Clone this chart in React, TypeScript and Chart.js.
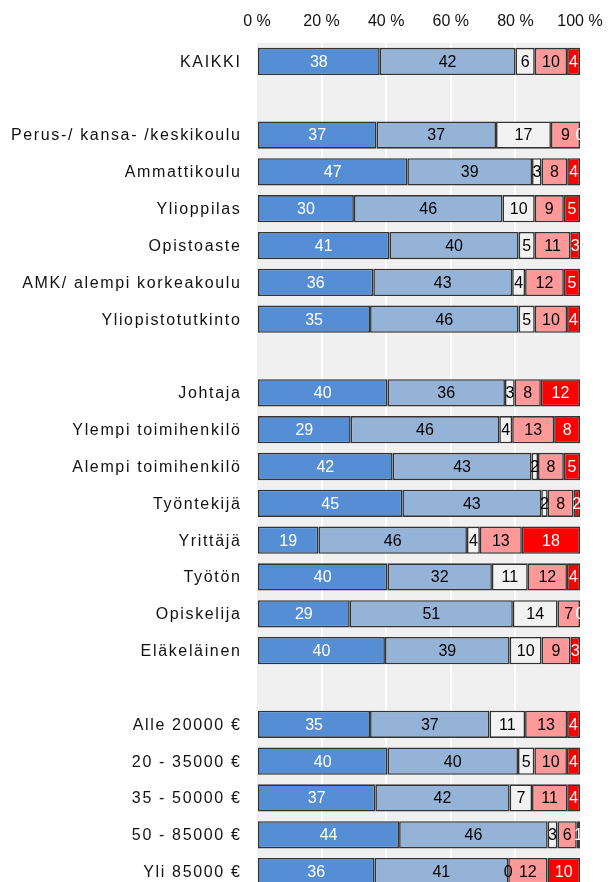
import React, { useEffect, useRef } from 'react';
import { Chart, registerables } from 'chart.js';

Chart.register(...registerables);

const categories = [
  'KAIKKI', '',
  'Perus-/ kansa- /keskikoulu', 'Ammattikoulu', 'Ylioppilas', 'Opistoaste', 'AMK/ alempi korkeakoulu', 'Yliopistotutkinto', '',
  'Johtaja', 'Ylempi toimihenkilö', 'Alempi toimihenkilö', 'Työntekijä', 'Yrittäjä', 'Työtön', 'Opiskelija', 'Eläkeläinen', '',
  'Alle 20000 €', '20 - 35000 €', '35 - 50000 €', '50 - 85000 €', 'Yli 85000 €',
];

const series1 = [38, null, 37, 47, 30, 41, 36, 35, null, 40, 29, 42, 45, 19, 40, 29, 40, null, 35, 40, 37, 44, 36];
const series2 = [42, null, 37, 39, 46, 40, 43, 46, null, 36, 46, 43, 43, 46, 32, 51, 39, null, 37, 40, 42, 46, 41];
const series3 = [6, null, 17, 3, 10, 5, 4, 5, null, 3, 4, 2, 2, 4, 11, 14, 10, null, 11, 5, 7, 3, 0];
const series4 = [10, null, 9, 8, 9, 11, 12, 10, null, 8, 13, 8, 8, 13, 12, 7, 9, null, 13, 10, 11, 6, 12];
const series5 = [4, null, 0, 4, 5, 3, 5, 4, null, 12, 8, 5, 2, 18, 4, 0, 3, null, 4, 4, 4, 1, 10];

const seriesNames = ['1', '2', '3', '4', '5'];
const seriesColors = ['#558ed5', '#95b3d7', '#f2f2f2', '#ff9999', '#ff0000'];
const labelColors = ['#ffffff', '#000000', '#000000', '#000000', '#ffffff'];
const xTicks = [0, 20, 40, 60, 80, 100];

const allSeries = [series1, series2, series3, series4, series5];

const FONT = "'Liberation Sans', Arial, sans-serif";

export default function App() {
  const canvasRef = useRef<HTMLCanvasElement | null>(null);

  useEffect(() => {
    document.body.style.margin = '0';
    const canvas = canvasRef.current;
    if (!canvas) return;

    const rowSums = categories.map((_, i) =>
      allSeries.reduce((s, arr) => s + (arr[i] == null ? 0 : (arr[i] as number)), 0)
    );

    const datasets = allSeries.map((arr, d) => ({
      label: seriesNames[d],
      data: arr.map((v, i) => (v == null ? null : (v / rowSums[i]) * 100)),
      backgroundColor: seriesColors[d],
      borderColor: '#333333',
      borderWidth: 1.6,
      borderSkipped: false as const,
      barPercentage: 0.74,
      categoryPercentage: 1,
    }));

    const bgPlugin = {
      id: 'plotBg',
      beforeDraw(chart: any) {
        const { ctx, chartArea } = chart;
        ctx.save();
        ctx.fillStyle = '#f0f0f0';
        ctx.fillRect(chartArea.left, chartArea.top, chartArea.right - chartArea.left, chartArea.bottom - chartArea.top);
        ctx.restore();
      },
    };

    const catLabelPlugin = {
      id: 'catLabels',
      afterDraw(chart: any) {
        const { ctx } = chart;
        const yScale = chart.scales.y;
        ctx.save();
        ctx.font = `16px ${FONT}`;
        ctx.fillStyle = '#111111';
        ctx.textAlign = 'right';
        ctx.textBaseline = 'middle';
        try { (ctx as any).letterSpacing = '1.65px'; } catch (e) {}
        categories.forEach((c, i) => {
          if (!c) return;
          const y = yScale.getPixelForValue(i);
          ctx.fillText(c, 241.5, y + 1);
        });
        ctx.restore();
      },
    };

    const valueLabelPlugin = {
      id: 'valueLabels',
      afterDatasetsDraw(chart: any) {
        const { ctx, chartArea } = chart;
        ctx.save();
        ctx.beginPath();
        ctx.rect(chartArea.left, chartArea.top, chartArea.right - chartArea.left + 1, chartArea.bottom - chartArea.top);
        ctx.clip();
        ctx.font = `16px ${FONT}`;
        ctx.textAlign = 'center';
        ctx.textBaseline = 'middle';
        chart.data.datasets.forEach((ds: any, d: number) => {
          const meta = chart.getDatasetMeta(d);
          meta.data.forEach((el: any, i: number) => {
            const raw = allSeries[d][i];
            if (raw == null) return;
            const p = el.getProps(['x', 'y', 'base'], true);
            ctx.fillStyle = labelColors[d];
            ctx.fillText(String(raw), (p.x + p.base) / 2, p.y + 1);
          });
        });
        ctx.restore();
      },
    };

    const chart = new Chart(canvas, {
      type: 'bar',
      data: { labels: categories, datasets },
      options: {
        indexAxis: 'y',
        responsive: false,
        animation: false,
        devicePixelRatio: 1,
        layout: { padding: { left: 0, right: 28, top: 0, bottom: 10 } },
        plugins: {
          legend: { display: false },
          tooltip: { enabled: false },
        },
        scales: {
          x: {
            position: 'top',
            stacked: true,
            min: 0,
            max: 100,
            afterBuildTicks(scale: any) {
              scale.ticks = xTicks.map((v) => ({ value: v }));
            },
            afterFit(scale: any) {
              scale.height = 43;
              scale.paddingLeft = 0;
              scale.paddingRight = 0;
            },
            ticks: {
              padding: 12,
              color: '#111111',
              font: { family: FONT, size: 16 },
              callback: (v: any) => `${v} %`,
            },
            grid: {
              drawTicks: false,
              lineWidth: 2,
              color: (ctx: any) => (ctx.tick && (ctx.tick.value === 0 || ctx.tick.value === 100) ? 'rgba(0,0,0,0)' : '#ffffff'),
            },
            border: { display: false },
          },
          y: {
            stacked: true,
            afterFit(scale: any) {
              scale.width = 257;
              scale.paddingTop = 0;
              scale.paddingBottom = 0;
            },
            ticks: { display: false },
            grid: { display: false },
            border: { display: false },
          },
        },
      },
      plugins: [bgPlugin, valueLabelPlugin, catLabelPlugin],
    });

    return () => chart.destroy();
  }, []);

  return (
    <div style={{ width: 608, height: 882, overflow: 'hidden', position: 'relative' }}>
      <canvas ref={canvasRef} width={608} height={900} style={{ display: 'block', width: 608, height: 900 }} />
    </div>
  );
}
